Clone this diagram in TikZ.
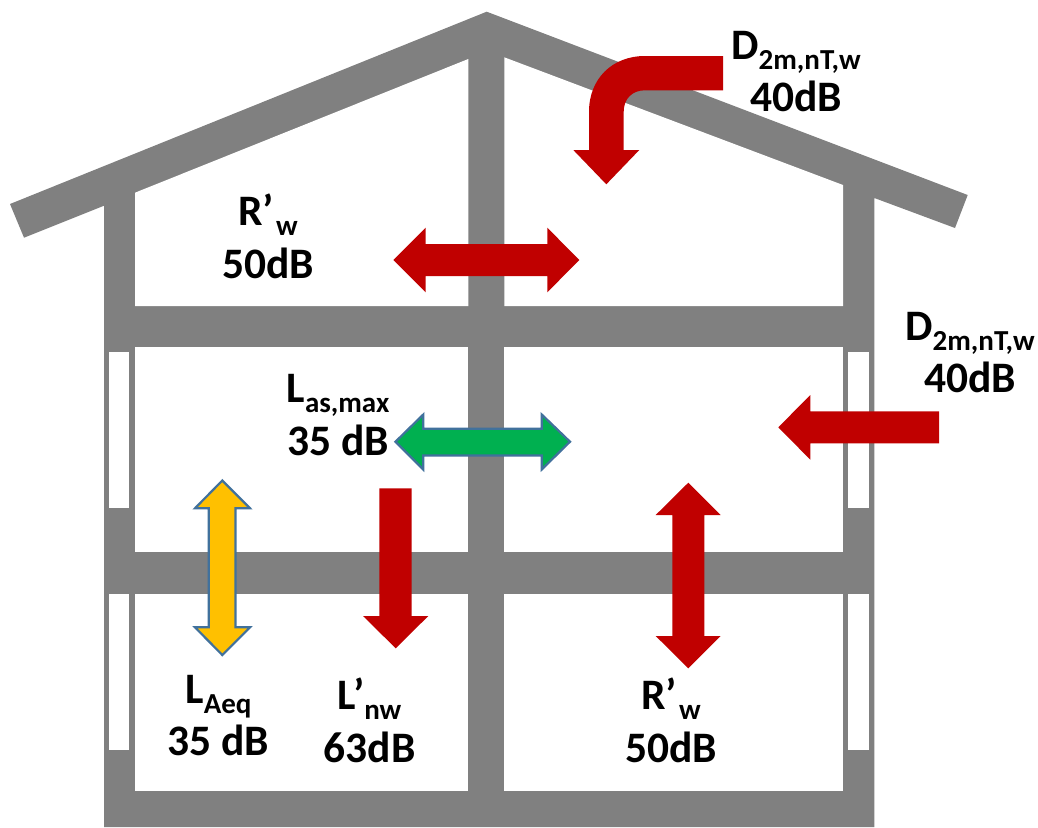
\documentclass[tikz,border=0pt]{standalone}
\usepackage{fontspec}
\setmainfont{Carlito}[BoldFont={Carlito Bold}]
\definecolor{wallgrey}{HTML}{808080}
\definecolor{soundred}{HTML}{C00000}
\definecolor{goodgreen}{HTML}{00B050}
\definecolor{ambery}{HTML}{FFC000}
\definecolor{outlineblue}{HTML}{41719C}
\newcommand{\lowtext}[1]{\raisebox{-10pt}{\fontsize{29}{29}\selectfont #1}}
\tikzset{
  wall/.style={fill=wallgrey},
  room/.style={fill=white},
  redarrow/.style={fill=soundred},
  bluearrow/.style={draw=outlineblue,line width=2.2pt,line join=miter},
  lbl/.style={inner sep=0pt,align=center,anchor=base,font=\fontsize{43.5}{52.5}\selectfont\bfseries,text=black}
}
\begin{document}
\begin{tikzpicture}[x=1pt,y=-1pt]
\useasboundingbox (0,0) rectangle (1038,827);
% house silhouette
\fill[wall] (486.7,11.7) -- (967.7,195) -- (955,228) -- (874.3,198) -- (874.3,827) -- (104,827)
  -- (104,205.7) -- (24,237.7) -- (10,204) -- cycle;
% rooms
\fill[room] (135,192.7) -- (468.3,59) -- (468.3,306) -- (135,306) -- cycle;
\fill[room] (504.3,57.3) -- (843,185) -- (843,306) -- (504.3,306) -- cycle;
\fill[room] (135,347) rectangle (468.3,552);
\fill[room] (504.3,347) rectangle (843,552);
\fill[room] (135,594) rectangle (468.3,791);
\fill[room] (504.3,594) rectangle (843,791);
% windows
\fill[room] (109,352) rectangle (129,507.7);
\fill[room] (109,594) rectangle (129,750);
\fill[room] (848,352) rectangle (869.3,507.7);
\fill[room] (848,594) rectangle (869.3,750);
% red double arrow, top floor
\fill[redarrow] (393.3,260) -- (425.7,227.7) -- (425.7,244) -- (547.3,244) -- (547.3,227.7) -- (579.3,260)
  -- (547.3,292.3) -- (547.3,276) -- (425.7,276) -- (425.7,292.3) -- cycle;
% bent arrow through the roof
\fill[redarrow] (723,56) -- (645,56) .. controls (612,56) and (589,79) .. (589,111.7) -- (589,150)
  -- (573.3,150) -- (606.3,184.3) -- (639.3,150) -- (623.7,150) -- (623.7,111.7)
  .. controls (623.7,99) and (632,90.3) .. (645,90.3) -- (723,90.3) -- cycle;
% red arrow through the facade
\fill[redarrow] (778.3,427.3) -- (810.3,395) -- (810.3,411.3) -- (939,411.3) -- (939,443.3) -- (810.3,443.3)
  -- (810.3,459.7) -- cycle;
% green double arrow
\filldraw[bluearrow,fill=goodgreen] (395.5,441.7) -- (423.3,414.5) -- (423.3,428.8) -- (541.7,428.8) -- (541.7,414.5)
  -- (570,441.7) -- (541.7,469.5) -- (541.7,455.5) -- (423.3,455.5) -- (423.3,469.5) -- cycle;
% amber double arrow
\filldraw[bluearrow,fill=ambery] (222.3,480.5) -- (250,508.3) -- (235.5,508.3) -- (235.5,627.3) -- (250,627.3)
  -- (222.3,655) -- (195,627.3) -- (208.8,627.3) -- (208.8,508.3) -- (195,508.3) -- cycle;
% red downward arrow
\fill[redarrow] (379.3,488.3) -- (411.7,488.3) -- (411.7,616) -- (428.3,616) -- (395.7,648.3) -- (363,616)
  -- (379.3,616) -- cycle;
% red vertical double arrow
\fill[redarrow] (688.3,482.7) -- (720.7,515) -- (704.3,515) -- (704.3,636) -- (720.7,636) -- (688.3,668.3)
  -- (655.7,636) -- (672.3,636) -- (672.3,515) -- (655.7,515) -- cycle;
% labels
\node[lbl] (rwtop) at (268,278.3) {R’\kern2pt\lowtext{w}\\50dB};
\node[lbl] (dtop) at (796,111.7) {D\lowtext{2m,nT,w}\\40dB};
\node[lbl] (dright) at (970,392.7) {D\lowtext{2m,nT,w}\\40dB};
\node[lbl] (lasmax) at (338,455) {L\lowtext{as,max}\\35 dB};
\node[lbl] (laeq) at (218.5,755.7) {L\lowtext{Aeq}\\35 dB};
\node[lbl] (lnw) at (369.5,762) {L’\lowtext{nw}\\63dB};
\node[lbl] (rwbot) at (671,762) {R’\kern2pt\lowtext{w}\\50dB};
\end{tikzpicture}
\end{document}
